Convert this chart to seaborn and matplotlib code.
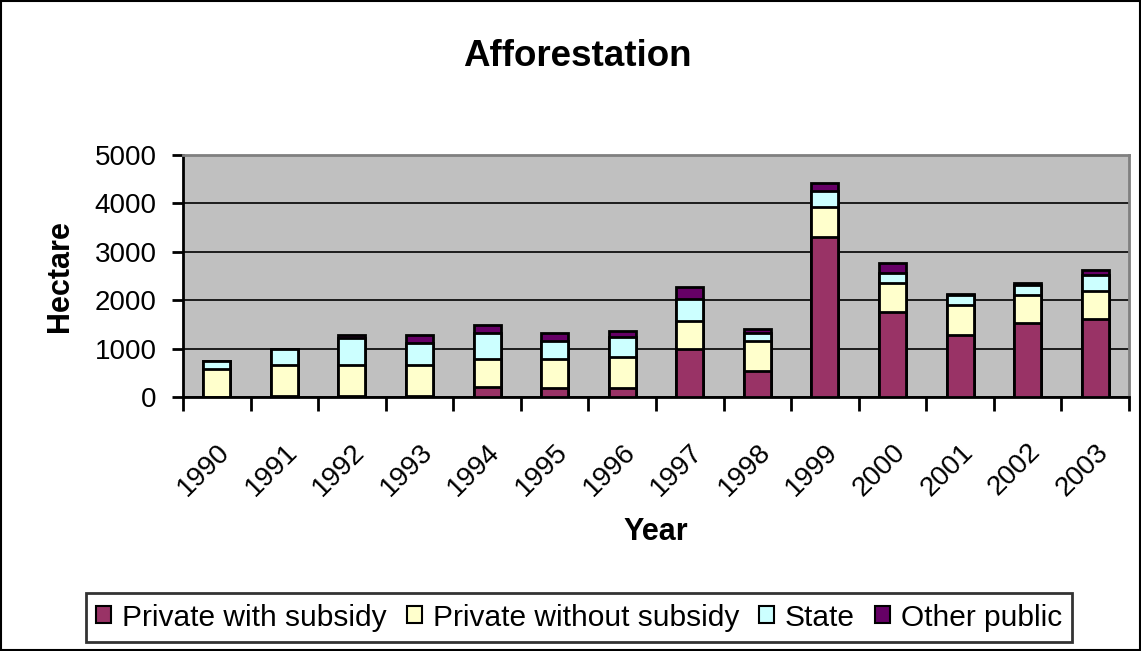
import matplotlib
matplotlib.use("Agg")
import matplotlib.pyplot as plt
import seaborn as sns
import numpy as np
import pandas as pd
from matplotlib.patches import Rectangle, Patch
import matplotlib.transforms as mtransforms

years = ["1990", "1991", "1992", "1993", "1994", "1995", "1996",
         "1997", "1998", "1999", "2000", "2001", "2002", "2003"]
private_with_subsidy = [0, 20, 20, 20, 200, 195, 195, 985, 540, 3300, 1765, 1275, 1530, 1605]
private_without_subsidy = [580, 640, 635, 635, 579, 585, 625, 580, 620, 625, 585, 630, 580, 590]
state = [165, 330, 573, 455, 538, 370, 415, 455, 165, 330, 215, 200, 205, 330]
other_public = [0, 0, 55, 166, 180, 175, 125, 255, 75, 165, 200, 15, 40, 90]

series_names = ["Private with subsidy", "Private without subsidy", "State", "Other public"]
series_values = [private_with_subsidy, private_without_subsidy, state, other_public]
colors = ["#993366", "#FFFFCC", "#CCFFFF", "#660066"]

sns.set_theme(style="white")
plt.rcParams["font.family"] = ["Liberation Sans", "DejaVu Sans"]
for k in ["text.color", "axes.labelcolor", "xtick.color", "ytick.color"]:
    plt.rcParams[k] = "black"

fig = plt.figure(figsize=(11.41, 6.51), dpi=100)
ax = fig.add_axes([183 / 1141, 1 - 397 / 651, 946 / 1141, 242 / 651])
ax.set_facecolor("#C0C0C0")

cum = np.cumsum(np.array(series_values, dtype=float), axis=0)
for i in range(len(series_names) - 1, -1, -1):
    df = pd.DataFrame({"Year": years, "value": cum[i]})
    sns.barplot(data=df, x="Year", y="value", ax=ax, color=colors[i],
                width=0.4, edgecolor="black", linewidth=2, saturation=1,
                zorder=3)

ax.set_ylim(0, 5000)
ax.set_xlim(-0.5, len(years) - 0.5)
ax.set_yticks([0, 1000, 2000, 3000, 4000, 5000])
ax.set_yticklabels(["0", "1000", "2000", "3000", "4000", "5000"], fontsize=20)
ax.yaxis.grid(True, color="black", linewidth=1.2, zorder=0)
ax.set_axisbelow(True)
ax.xaxis.grid(False)

ax.set_xticks(range(len(years)))
ax.set_xticklabels(years, rotation=45, ha="right", rotation_mode="anchor", fontsize=20)
offset = mtransforms.ScaledTranslation(-19 / 100, 0, fig.dpi_scale_trans)
for lab in ax.get_xticklabels():
    lab.set_transform(lab.get_transform() + offset)
ax.set_xticks(np.arange(-0.5, len(years), 1), minor=True)
ax.tick_params(axis="x", which="major", length=0, pad=30)
ax.tick_params(axis="x", which="minor", length=10, width=2, color="black", direction="out", bottom=True)
ax.tick_params(axis="y", which="major", length=8, width=2, color="black", direction="out", left=True, pad=11)

for s in ["left", "bottom"]:
    ax.spines[s].set_color("black")
    ax.spines[s].set_linewidth(2)
for s in ["top", "right"]:
    ax.spines[s].set_color("#808080")
    ax.spines[s].set_linewidth(2)

ax.set_xlabel("Year", fontsize=22, fontweight="bold")
ax.set_ylabel("Hectare", fontsize=22, fontweight="bold")
ax.xaxis.set_label_coords((656 - 183) / 946, (397 - 532) / 242)
ax.yaxis.set_label_coords((60 - 183) / 946, 0.5)
ax.xaxis.label.set_va("center")
ax.yaxis.label.set_va("center")

fig.text(577 / 1141, 1 - 57 / 651, "Afforestation", ha="center", va="center",
         fontsize=26.5, fontweight="bold")

handles = [Patch(facecolor=c, edgecolor="black", linewidth=1.5) for c in colors]
leg = fig.legend(handles, series_names, loc="center", ncol=4,
                 bbox_to_anchor=(579 / 1141, 1 - 617.5 / 651),
                 fontsize=21.5, frameon=True, fancybox=False,
                 handlelength=0.5, handleheight=0.5, handletextpad=0.37,
                 columnspacing=0.67, borderpad=0.35, borderaxespad=0)
leg.get_frame().set_edgecolor("black")
leg.get_frame().set_linewidth(2)

fig.patches.append(Rectangle((0.001, 0.001), 0.998, 0.997, transform=fig.transFigure,
                             fill=False, edgecolor="black", linewidth=1.5))

fig.savefig("out.png", dpi=100)
